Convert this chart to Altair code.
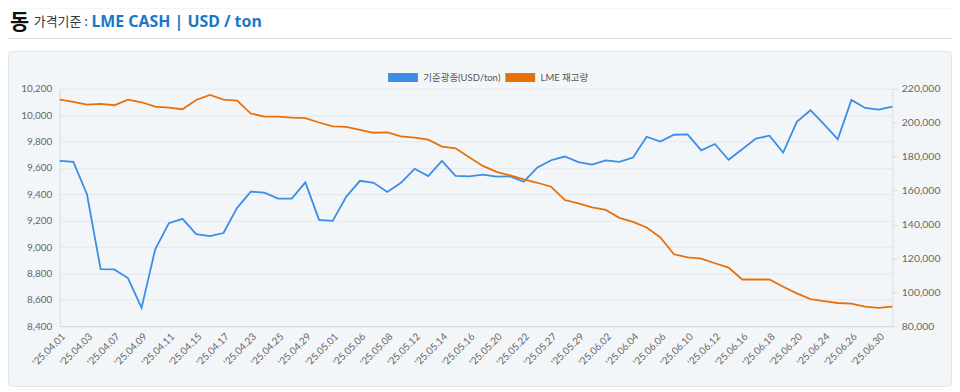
import altair as alt
import pandas as pd

dates = [
    "'25.04.01", "'25.04.02", "'25.04.03", "'25.04.04", "'25.04.07", "'25.04.08",
    "'25.04.09", "'25.04.10", "'25.04.11", "'25.04.14", "'25.04.15", "'25.04.16",
    "'25.04.17", "'25.04.22", "'25.04.23", "'25.04.24", "'25.04.25", "'25.04.28",
    "'25.04.29", "'25.04.30", "'25.05.01", "'25.05.02", "'25.05.06", "'25.05.07",
    "'25.05.08", "'25.05.09", "'25.05.12", "'25.05.13", "'25.05.14", "'25.05.15",
    "'25.05.16", "'25.05.19", "'25.05.20", "'25.05.21", "'25.05.22", "'25.05.23",
    "'25.05.27", "'25.05.28", "'25.05.29", "'25.05.30", "'25.06.02", "'25.06.03",
    "'25.06.04", "'25.06.05", "'25.06.06", "'25.06.09", "'25.06.10", "'25.06.11",
    "'25.06.12", "'25.06.13", "'25.06.16", "'25.06.17", "'25.06.18", "'25.06.19",
    "'25.06.20", "'25.06.23", "'25.06.24", "'25.06.25", "'25.06.26", "'25.06.27",
    "'25.06.30", "'25.07.01",
]

price = [
    9653, 9645, 9400, 8832, 8830, 8765, 8539, 8983, 9181, 9214,
    9098, 9083, 9106, 9297, 9420, 9412, 9367, 9367, 9490, 9206,
    9198, 9382, 9502, 9487, 9417, 9487, 9593, 9538, 9653, 9540,
    9535, 9548, 9533, 9535, 9495, 9603, 9658, 9686, 9643, 9625,
    9656, 9645, 9678, 9836, 9799, 9851, 9854, 9733, 9781, 9661,
    9741, 9822, 9844, 9716, 9949, 10037, 9929, 9816, 10115, 10054,
    10042, 10065,
]

stock = [
    213560, 212190, 210630, 211020, 210240, 213560, 212000, 209460, 208870, 207890,
    213360, 216290, 213560, 212970, 205360, 203600, 203600, 203010, 202620, 200080,
    197740, 197550, 195790, 194030, 194230, 191880, 191100, 189930, 185830, 184850,
    179580, 174500, 170990, 168840, 166500, 164550, 162200, 154390, 152440, 150100,
    148540, 143850, 141510, 138190, 132330, 122370, 120610, 119830, 117100, 114560,
    107530, 107530, 107530, 103240, 99330, 96010, 94840, 93670, 93280, 91520,
    90740, 91520,
]

left_ticks = [8400, 8600, 8800, 9000, 9200, 9400, 9600, 9800, 10000, 10200]
right_ticks = [80000, 100000, 120000, 140000, 160000, 180000, 200000, 220000]
series_names = ["기준광종(USD/ton)", "LME 재고량"]
series_colors = ["#3a8ee6", "#e8700a"]
x_label_dates = dates[0::2]

df = pd.DataFrame({"date": dates, "price": price, "stock": stock})
one = pd.DataFrame({"k": [0]})

KR = "Noto Sans CJK KR"
NUM = "Lato"

x_enc = alt.X(
    "date:N", sort=None, title=None,
    scale=alt.Scale(type="point", padding=0),
    axis=alt.Axis(values=x_label_dates, labelAngle=315, labelAlign="right",
                  labelBaseline="top", labelFontSize=10, labelColor="#666666",
                  labelFont=NUM, labelPadding=5, ticks=False, grid=False,
                  domainColor="#cfd6de", labelOverlap=False),
)

color_scale = alt.Scale(domain=series_names, range=series_colors)
legend = alt.Legend(orient="none", legendX=326, legendY=-31, direction="horizontal",
                    title=None, symbolType="stroke", symbolSize=900,
                    symbolStrokeWidth=9, labelFontSize=9.5, labelColor="#555555",
                    labelFont="Lato, Noto Sans CJK KR", columnPadding=-18, labelOffset=1)
color_enc = alt.Color("series:N", scale=color_scale, legend=legend)

line_price = alt.Chart(df).transform_calculate(
    series="'" + series_names[0] + "'"
).mark_line(strokeWidth=1.8).encode(
    x=x_enc,
    y=alt.Y("price:Q", title=None,
            scale=alt.Scale(domain=[8400, 10200], nice=False, zero=False),
            axis=alt.Axis(orient="left", values=left_ticks, format=",.0f", ticks=False,
                          grid=True, gridColor="#e2e7ed", domainColor="#d5dce4",
                          labelColor="#666666", labelFontSize=10, labelFont=NUM,
                          labelPadding=8)),
    color=color_enc,
)

line_stock = alt.Chart(df).transform_calculate(
    series="'" + series_names[1] + "'"
).mark_line(strokeWidth=1.8).encode(
    x=x_enc,
    y=alt.Y("stock:Q", title=None,
            scale=alt.Scale(domain=[80000, 220000], nice=False, zero=False),
            axis=alt.Axis(orient="right", values=right_ticks, format=",.0f", ticks=True,
                          tickSize=5, tickColor="#d5dce4", grid=False,
                          domainColor="#d5dce4", labelColor="#666666",
                          labelFontSize=10.5, labelFont=NUM, labelPadding=4)),
    color=color_enc,
)

white_top = alt.Chart(one).mark_rect(color="white").encode(
    x=alt.value(-52), x2=alt.value(898), y=alt.value(-80), y2=alt.value(-38))
white_bottom = alt.Chart(one).mark_rect(color="white").encode(
    x=alt.value(-52), x2=alt.value(898), y=alt.value(300), y2=alt.value(302))
panel_border = alt.Chart(one).mark_rect(fillOpacity=0, stroke="#dfe5ec", strokeWidth=1,
                                        cornerRadius=6).encode(
    x=alt.value(-51.5), x2=alt.value(897.5), y=alt.value(-37.5), y2=alt.value(299.5))
header_rule = alt.Chart(one).mark_rule(color="#e0e0e0").encode(
    x=alt.value(-52), x2=alt.value(898), y=alt.value(-50.5))

t_main = alt.Chart(one).mark_text(text="동", align="left", baseline="middle", fontSize=21,
                                  fontWeight="bold", font=KR, color="#111111").encode(
    x=alt.value(-50), y=alt.value(-66))
t_sub = alt.Chart(one).mark_text(text="가격기준 :", align="left", baseline="middle",
                                 fontSize=13, font=KR, color="#333333").encode(
    x=alt.value(-26), y=alt.value(-67))
t_unit = alt.Chart(one).mark_text(text="LME CASH | USD / ton", align="left",
                                  baseline="middle", fontSize=16, fontWeight="bold",
                                  font="Noto Sans", color="#1a78c8").encode(
    x=alt.value(32), y=alt.value(-67))

chart = alt.layer(
    white_top, white_bottom, panel_border, header_rule, t_main, t_sub, t_unit,
    line_price, line_stock,
).resolve_scale(y="independent").properties(
    width=838, height=239,
    autosize=alt.AutoSizeParams(type="none"),
    padding={"left": 52, "top": 80, "right": 60, "bottom": 63},
    background="#f3f6f9",
).configure_view(strokeWidth=0)

chart.save("out.html", embed_options={"renderer": "svg", "actions": False})
